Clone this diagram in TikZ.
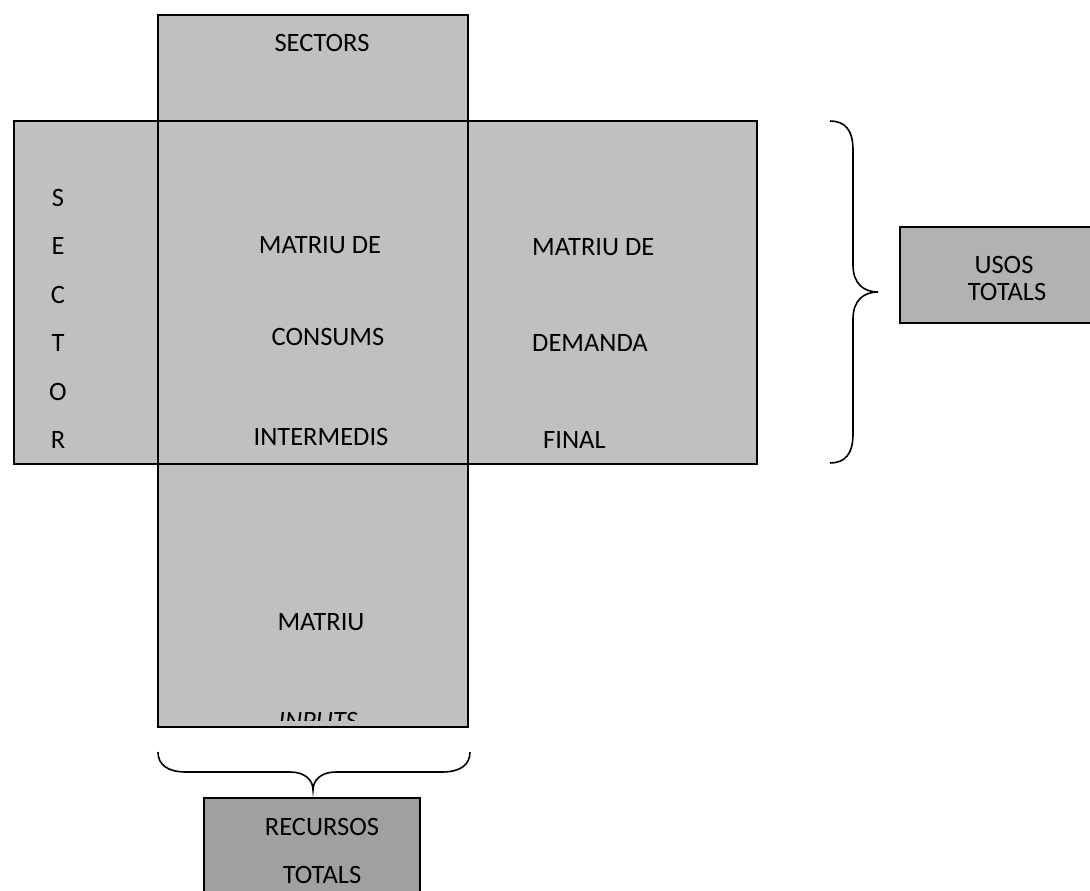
\documentclass[tikz,border=0pt]{standalone}
\usepackage{fontspec}
\setmainfont{Carlito}
\usetikzlibrary{positioning}
\definecolor{cellgray}{HTML}{C0C0C0}
\definecolor{sumgray}{HTML}{B2B2B2}
\definecolor{totgray}{HTML}{A0A0A0}
\tikzset{
  cell/.style={draw=black, line width=2pt, fill=cellgray, inner sep=0pt},
  txt/.style={font=\fontsize{26.5}{32}\selectfont, inner sep=0pt},
  brc/.style={draw=black, line width=1.6pt},
}
\begin{document}
\begin{tikzpicture}[x=1pt,y=-1pt]
	\useasboundingbox (0,0) rectangle (1090,891);

	% Boxes of the table
	\node[cell, minimum width=310pt, minimum height=106pt] (sectors) at (313,68) {};
	\node[cell, minimum width=144pt, minimum height=343pt] (sector) at (86,292.5) {};
	\node[cell, minimum width=289pt, minimum height=343pt] (demand) at (612.5,292.5) {};
	\node[cell, minimum width=310pt, minimum height=263pt] (inputs) at (313,595.5) {};
	\node[cell, minimum width=310pt, minimum height=343pt] (consum) at (313,292.5) {};

	% Totals
	\node[cell, fill=sumgray, minimum width=210pt, minimum height=96pt] (usos) at (1005,275) {};
	\node[cell, fill=totgray, minimum width=216pt, minimum height=110pt] (recursos) at (312,853) {};

	% Labels
	\node[txt] (sectorsT) at (322,43) {SECTORS};
	\foreach \ch [count=\i] in {S,E,C,T,O,R}
		\node[txt] (sec\i) at (58,{198+48.4*(\i-1)}) {\ch};

	\node[txt] (consA) at (320,245) {MATRIU DE};
	\node[txt] (consB) at (328,337) {CONSUMS};
	\node[txt] (consC) at (321,437) {INTERMEDIS};

	\node[txt, anchor=west] (demA) at (532,247) {MATRIU DE};
	\node[txt, anchor=west] (demB) at (532,343) {DEMANDA};
	\node[txt, anchor=west] (demC) at (543,440) {FINAL};

	\node[txt] (inpA) at (321,622) {MATRIU};
	\begin{scope}
		\clip (inputs.north west) rectangle ([yshift=8pt]inputs.south east);
		\node[txt, font=\fontsize{26.5}{32}\selectfont\itshape] (inpB) at (318,721) {INPUTS};
	\end{scope}

	\node[txt] (usosA) at (1004,265) {USOS};
	\node[txt] (usosB) at (1007,292) {TOTALS};
	\node[txt] (recA) at (322,827) {RECURSOS};
	\node[txt] (recB) at (322,875) {TOTALS};

	% Braces
	\draw[brc] (830,121) .. controls (845,121) and (853,130) .. (853,150) -- (853,265)
		.. controls (853,284) and (864,292) .. (878,292)
		.. controls (864,292) and (853,300) .. (853,319) -- (853,434)
		.. controls (853,454) and (845,463) .. (830,463);
	\draw[brc] (158,752) .. controls (158,765) and (168,772) .. (186,772) -- (290,772)
		.. controls (305,772) and (313,780) .. (313,790)
		.. controls (313,780) and (321,772) .. (336,772) -- (442,772)
		.. controls (460,772) and (470,765) .. (470,752);
\end{tikzpicture}
\end{document}
